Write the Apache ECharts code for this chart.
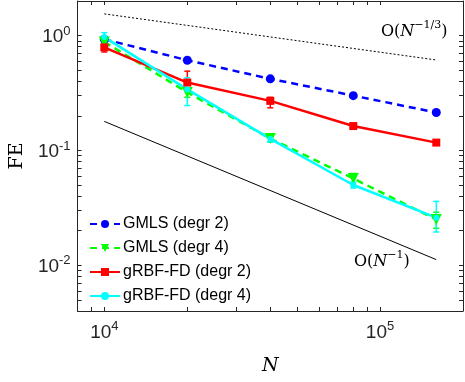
<!DOCTYPE html>
<html>
<head>
<meta charset="UTF-8">
<title>FE convergence</title>
<script src="https://cdn.jsdelivr.net/npm/echarts@6/dist/echarts.min.js"></script>
<style>html,body{margin:0;padding:0;background:#fff}#main{width:465px;height:382px}</style>
</head>
<body>
<div id="main"></div>
<script>
// number of nodes
var N = [10000, 20000, 40000, 80000, 160000];
// mean errors
var gmls2 = [0.93, 0.61, 0.42, 0.30, 0.214];
var gmls4 = [0.88, 0.32, 0.127, 0.057, 0.025];
var rbf2 = [0.79, 0.39, 0.27, 0.163, 0.117];
var rbf4 = [0.97, 0.34, 0.126, 0.050, 0.026];
// error bar bounds [low, high]
var gmls4Lo = [0.84, 0.29, 0.119, 0.051, 0.021];
var gmls4Hi = [0.93, 0.35, 0.136, 0.063, 0.029];
var rbf2Lo = [0.72, 0.34, 0.235, 0.157, 0.112];
var rbf2Hi = [0.88, 0.49, 0.29, 0.169, 0.122];
var rbf4Lo = [0.90, 0.246, 0.118, 0.047, 0.0195];
var rbf4Hi = [1.06, 0.43, 0.134, 0.053, 0.036];
// reference slopes
var slopeThirdX = [10000, 160000];
var slopeThirdY = [1.545, 0.613];
var slopeOneX = [10000, 160000];
var slopeOneY = [0.179, 0.0112];
// ticks
var xMinor = [8000, 9000, 10000, 20000, 30000, 40000, 50000, 60000, 70000, 80000, 90000, 100000, 200000];
var xMajor = [10000, 100000];
var yMinor = [0.004, 0.005, 0.006, 0.007, 0.008, 0.009, 0.01, 0.02, 0.03, 0.04, 0.05, 0.06, 0.07, 0.08, 0.09,
  0.1, 0.2, 0.3, 0.4, 0.5, 0.6, 0.7, 0.8, 0.9, 1, 2];
var yMajor = [0.01, 0.1, 1];

function pairs(xs, ys) {
  return xs.map(function (x, i) { return [x, ys[i]]; });
}
function bars(xs, lo, hi) {
  return xs.map(function (x, i) { return [x, lo[i], hi[i]]; });
}

var axisColor = '#262626';
var tickFont = 'Liberation Sans, Arial, sans-serif';
var richPow = {
  b: {fontSize: 19, lineHeight: 22, fontFamily: tickFont, color: '#262626', verticalAlign: 'bottom'},
  s: {fontSize: 13, lineHeight: 22, fontFamily: tickFont, color: '#262626', verticalAlign: 'top'}
};
function powLabel(v) {
  var e = Math.round(Math.log10(v));
  return '{b|10}{s|' + (e < 0 ? '-' + (-e) : e) + '}';
}

function xAx(pos, show) {
  return {
    type: 'log', logBase: 10, min: 8000, max: 200000, position: pos,
    name: show ? 'N' : '', nameLocation: 'middle', nameGap: 46,
    nameTextStyle: {fontFamily: 'DejaVu Serif', fontStyle: 'italic', fontSize: 19, color: '#000'},
    axisLine: {show: true, onZero: false, lineStyle: {color: axisColor, width: 1}},
    axisTick: {show: true, inside: true, length: 4, customValues: xMinor, lineStyle: {color: axisColor}},
    minorTick: {show: false},
    axisLabel: {show: show, customValues: xMajor, formatter: powLabel, rich: richPow, margin: 9},
    splitLine: {show: false}
  };
}
function yAx(pos, show) {
  return {
    type: 'log', logBase: 10, min: 0.004, max: 2, position: pos,
    name: show ? 'FE' : '', nameLocation: 'middle', nameGap: 46,
    nameTextStyle: {fontFamily: 'DejaVu Serif', fontSize: 19, color: '#000'},
    axisLine: {show: true, onZero: false, lineStyle: {color: axisColor, width: 1}},
    axisTick: {show: true, inside: true, length: 4, customValues: yMinor, lineStyle: {color: axisColor}},
    minorTick: {show: false},
    axisLabel: {show: show, customValues: yMajor, formatter: powLabel, rich: richPow, margin: 7},
    splitLine: {show: false}
  };
}

function errRender(color) {
  return function (params, api) {
    var x = api.value(0);
    var top = api.coord([x, api.value(2)]);
    var bot = api.coord([x, api.value(1)]);
    var w = 3;
    var st = {stroke: color, lineWidth: 1.5};
    return {
      type: 'group',
      children: [
        {type: 'line', shape: {x1: top[0], y1: top[1], x2: bot[0], y2: bot[1]}, style: st},
        {type: 'line', shape: {x1: top[0] - w, y1: top[1], x2: top[0] + w, y2: top[1]}, style: st},
        {type: 'line', shape: {x1: bot[0] - w, y1: bot[1], x2: bot[0] + w, y2: bot[1]}, style: st}
      ]
    };
  };
}
function errSeries(lo, hi, color) {
  return {
    type: 'custom', xAxisIndex: 0, yAxisIndex: 0, silent: true,
    renderItem: errRender(color), data: bars(N, lo, hi),
    encode: {x: 0, y: [1, 2]}, z: 3
  };
}
function lineSeries(name, ys, color, dash, symbol, size, rot) {
  return {
    name: name, type: 'line', xAxisIndex: 0, yAxisIndex: 0,
    data: pairs(N, ys), symbol: symbol, symbolSize: size, symbolRotate: rot || 0,
    lineStyle: {color: color, width: 2.5, type: dash ? [7, 5] : 'solid'},
    itemStyle: {color: color}, z: 4, animation: false
  };
}

var annRich = {
  o: {fontFamily: 'DejaVu Serif', fontSize: 16, lineHeight: 20, verticalAlign: 'bottom', fill: '#000'},
  n: {fontFamily: 'DejaVu Serif', fontStyle: 'italic', fontSize: 16, lineHeight: 20, verticalAlign: 'bottom', fill: '#000'},
  s: {fontFamily: 'DejaVu Serif', fontSize: 11, lineHeight: 20, verticalAlign: 'top', fill: '#000'}
};

var chart = echarts.init(document.getElementById('main'));
chart.setOption({
  animation: false,
  grid: {left: 72, right: 2, top: 1, bottom: 71},
  xAxis: [xAx('bottom', true), xAx('top', false)],
  yAxis: [yAx('left', true), yAx('right', false)],
  legend: {
    data: ['GMLS (degr 2)', 'GMLS (degr 4)', 'gRBF-FD (degr 2)', 'gRBF-FD (degr 4)'],
    orient: 'vertical', left: 84, top: 211, itemWidth: 30, itemHeight: 10, itemGap: 8,
    textStyle: {fontFamily: tickFont, fontSize: 16, color: '#000', padding: [0, 0, 0, -2]}
  },
  series: [
    {type: 'line', xAxisIndex: 0, yAxisIndex: 0, data: pairs(slopeThirdX, slopeThirdY), symbol: 'none',
      lineStyle: {color: '#000', width: 1, type: [2, 2]}, silent: true, z: 2},
    {type: 'line', xAxisIndex: 0, yAxisIndex: 0, data: pairs(slopeOneX, slopeOneY), symbol: 'none',
      lineStyle: {color: '#000', width: 1}, silent: true, z: 2},
    lineSeries('GMLS (degr 2)', gmls2, '#0000ff', true, 'circle', 9),
    lineSeries('GMLS (degr 4)', gmls4, '#00ff00', true, 'triangle', 11, 180),
    lineSeries('gRBF-FD (degr 2)', rbf2, '#ff0000', false, 'rect', 8),
    lineSeries('gRBF-FD (degr 4)', rbf4, '#00ffff', false, 'circle', 6),
    errSeries(gmls4Lo, gmls4Hi, '#00ff00'),
    errSeries(rbf2Lo, rbf2Hi, '#ff0000'),
    errSeries(rbf4Lo, rbf4Hi, '#00ffff')
  ],
  graphic: [
    {type: 'text', left: 381, top: 20, z: 10, style: {text: '{o|O(}{n|N}{s|\u22121/3}{o|)}', rich: annRich}},
    {type: 'text', left: 354, top: 250, z: 10, style: {text: '{o|O(}{n|N}{s|\u22121}{o|)}', rich: annRich}}
  ]
});
</script>
</body>
</html>
